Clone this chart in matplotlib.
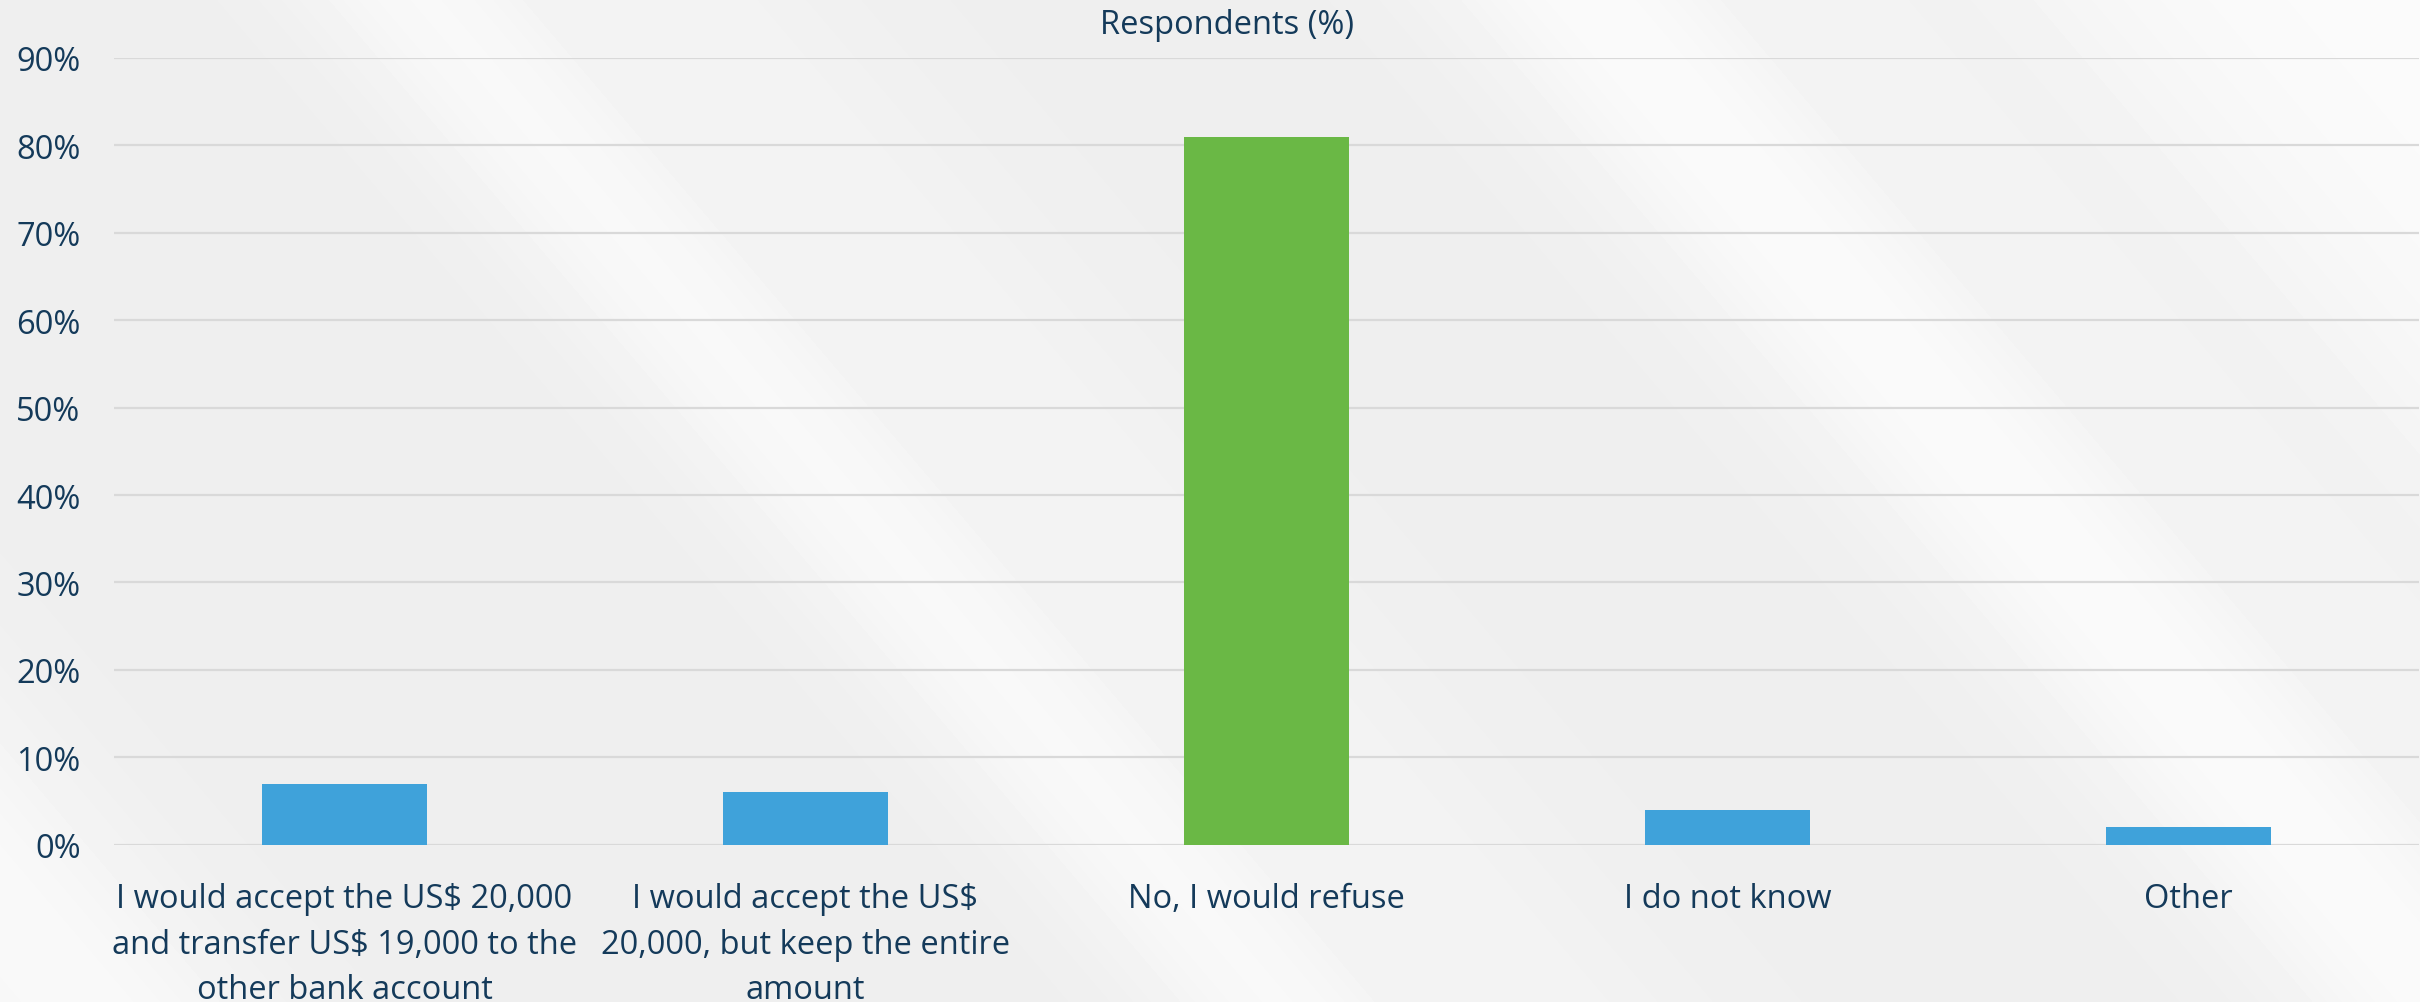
import numpy as np
import matplotlib
matplotlib.use("Agg")
import matplotlib.pyplot as plt
from matplotlib.ticker import FuncFormatter

# data
categories = [
    "I would accept the US$ 20,000\nand transfer US$ 19,000 to the\nother bank account",
    "I would accept the US$\n20,000, but keep the entire\namount",
    "No, I would refuse",
    "I do not know",
    "Other",
]
respondents = [7, 6, 81, 4, 2]
bar_colors = ["#3fa2da", "#3fa2da", "#6ab845", "#3fa2da", "#3fa2da"]
yticks = [0, 10, 20, 30, 40, 50, 60, 70, 80, 90]

text_color = "#143a5a"
plt.rcParams["font.family"] = ["Open Sans", "DejaVu Sans"]

W, H = 2420, 1003
fig = plt.figure(figsize=(W / 100, H / 100), dpi=100)

# background: light grey with soft white diagonal streaks
bg = fig.add_axes([0, 0, 1, 1], zorder=-5)
xx, yy = np.meshgrid(np.arange(W), np.arange(H))
u = xx - yy * 0.85
# (start, end, strength, softness) along the diagonal coordinate
streaks = [
    (-900, -650, 0.8, 60),
    (330, 520, 0.7, 40),
    (520, 760, 0.45, 80),
    (1480, 1700, 0.85, 50),
    (1750, 1900, 0.5, 60),
    (2050, 3200, 0.75, 90),
]
light = np.zeros_like(u, dtype=float)
for a, b, s, soft in streaks:
    band = 1 / (1 + np.exp(-(u - a) / soft)) * 1 / (1 + np.exp((u - b) / soft))
    light = np.maximum(light, s * band)
base = 0.935
shade = base + (1 - base) * light
bg.imshow(shade, cmap="gray", vmin=0, vmax=1, aspect="auto", interpolation="bilinear")
bg.axis("off")

ax = fig.add_axes([114 / W, 157.3 / H, 2305 / W, 786.7 / H])
ax.set_facecolor("none")
x = np.arange(len(categories))
ax.bar(x, respondents, width=0.356, color=bar_colors, zorder=3)

ax.set_xlim(-0.5, len(categories) - 0.5)
ax.set_ylim(0, 90)
ax.set_yticks(yticks)
ax.yaxis.set_major_formatter(FuncFormatter(lambda v, p: f"{v:.0f}%"))
ax.grid(axis="y", color="#d9d9d9", linewidth=1.6, zorder=0)
ax.set_axisbelow(True)
for s in ax.spines.values():
    s.set_visible(False)
ax.tick_params(axis="both", length=0, colors=text_color, labelsize=23.5)
ax.tick_params(axis="y", pad=24)
ax.tick_params(axis="x", pad=27)
ax.set_xticks(x)
ax.set_xticklabels(categories, linespacing=1.5)

fig.text(1227 / W, 1 - 26 / H, "Respondents (%)", ha="center", va="center",
         fontsize=23.5, color=text_color)

fig.savefig("out.png", dpi=100)
